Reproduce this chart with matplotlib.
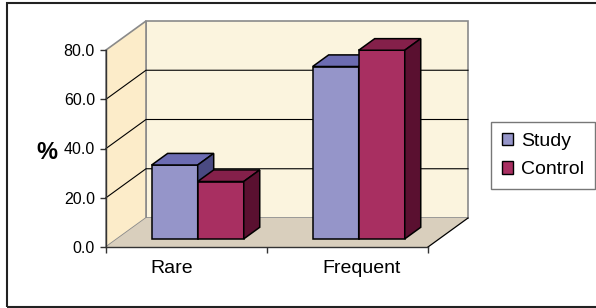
import matplotlib.pyplot as plt
from matplotlib.patches import Polygon, Rectangle, Patch

plt.rcParams['font.family'] = ['Liberation Sans', 'DejaVu Sans']

categories = ["Rare", "Frequent"]
series = ["Study", "Control"]
study = [30.0, 70.0]
control = [23.3, 76.6]
yticks = [0, 20, 40, 60, 80]

# face colours: front, top, side
colors = {
    "Study": ("#9595c9", "#6c6cb2", "#4a4a82"),
    "Control": ("#a82f61", "#84204a", "#5a1030"),
}
wall_back = "#fbf4de"
wall_side = "#fcecc9"
floor_col = "#d9cfbd"

W, H = 596, 308
fig = plt.figure(figsize=(W / 100, H / 100), dpi=100)
# axes = front plane of the 3D box
x0, x1, y0, y1 = 106, 428, 247, 50
ax = fig.add_axes([x0 / W, (H - y0) / H, (x1 - x0) / W, (y0 - y1) / H])
ax.set_xlim(0, len(categories))
ax.set_ylim(0, 80)
ax.patch.set_alpha(0)

# depth offset in data units
px_x = (x1 - x0) / len(categories)
px_y = (y0 - y1) / 80
DX = 40 / px_x
DY = 29 / px_y


def proj(x, y, d):
    return (x + d * DX, y + d * DY)


ymax = 80
n = len(categories)
# back wall
ax.add_patch(Polygon([proj(0, 0, 1), proj(n, 0, 1), proj(n, ymax, 1), proj(0, ymax, 1)],
                     closed=True, fc=wall_back, ec="#8a8a8a", lw=1.2, clip_on=False, zorder=1))
# side wall
ax.add_patch(Polygon([proj(0, 0, 0), proj(0, 0, 1), proj(0, ymax, 1), proj(0, ymax, 0)],
                     closed=True, fc=wall_side, ec="#8a8a8a", lw=1.2, clip_on=False, zorder=1))
# floor
ax.add_patch(Polygon([proj(0, 0, 0), proj(n, 0, 0), proj(n, 0, 1), proj(0, 0, 1)],
                     closed=True, fc=floor_col, ec="none", clip_on=False, zorder=1))
ax.plot(*zip(proj(n, 0, 0), proj(n, 0, 1)), color="black", lw=0.9, clip_on=False, zorder=2)

# gridlines on walls
for v in yticks[1:-1]:
    pts = [proj(0, v, 0), proj(0, v, 1), proj(n, v, 1)]
    ax.plot(*zip(*pts), color="black", lw=0.8, clip_on=False, zorder=2)

# bars
d0, d1 = 0.28, 0.68
bw = 0.286
for i in range(n):
    for j, (name, vals) in enumerate([("Study", study), ("Control", control)]):
        v = vals[i]
        xl = i + 0.5 - bw + j * bw
        xr = xl + bw
        front, top, side = colors[name]
        kw = dict(closed=True, ec="black", lw=1.1, clip_on=False, zorder=3 + j)
        ax.add_patch(Polygon([proj(xl, 0, d0), proj(xr, 0, d0), proj(xr, v, d0), proj(xl, v, d0)], fc=front, **kw))
        ax.add_patch(Polygon([proj(xl, v, d0), proj(xr, v, d0), proj(xr, v, d1), proj(xl, v, d1)], fc=top, **kw))
        ax.add_patch(Polygon([proj(xr, 0, d0), proj(xr, 0, d1), proj(xr, v, d1), proj(xr, v, d0)], fc=side, **kw))

# axes
for s in ["top", "right"]:
    ax.spines[s].set_visible(False)
for s in ["left", "bottom"]:
    ax.spines[s].set_color("#333333")
    ax.spines[s].set_linewidth(1.0)
    ax.spines[s].set_zorder(6)
ax.set_yticks(yticks)
ax.set_yticklabels([f"{v:.1f}" for v in yticks], fontsize=11.5)
ax.set_xticks(range(n + 1))
ax.set_xticklabels([])
ax.tick_params(axis="both", direction="out", length=4, width=1.0, color="#333333", pad=4)

label_x = [0.41, 1.59]
for x, c in zip(label_x, categories):
    ax.text(x, -8.7, c, ha="center", va="center", fontsize=14)

ax.text(-0.37, 38.2, "%", ha="center", va="center", fontsize=17, fontweight="bold")

handles = [Patch(fc=colors[s][0], ec="black", lw=1.0) for s in series]
fig.legend(handles, series, loc="center left", bbox_to_anchor=(491 / W, (H - 155.5) / H),
           fontsize=14, frameon=True, fancybox=False, edgecolor="#555555",
           handlelength=0.6, handleheight=0.6, handletextpad=0.4, labelspacing=0.6,
           borderaxespad=0, borderpad=0.55)

# outer frame
fig.patches.append(Rectangle((7 / W, 1 - 307 / H), 1.0, 304 / H, transform=fig.transFigure,
                             fill=False, ec="#222222", lw=1.5, clip_on=False))

fig.savefig("out.png", dpi=100)
